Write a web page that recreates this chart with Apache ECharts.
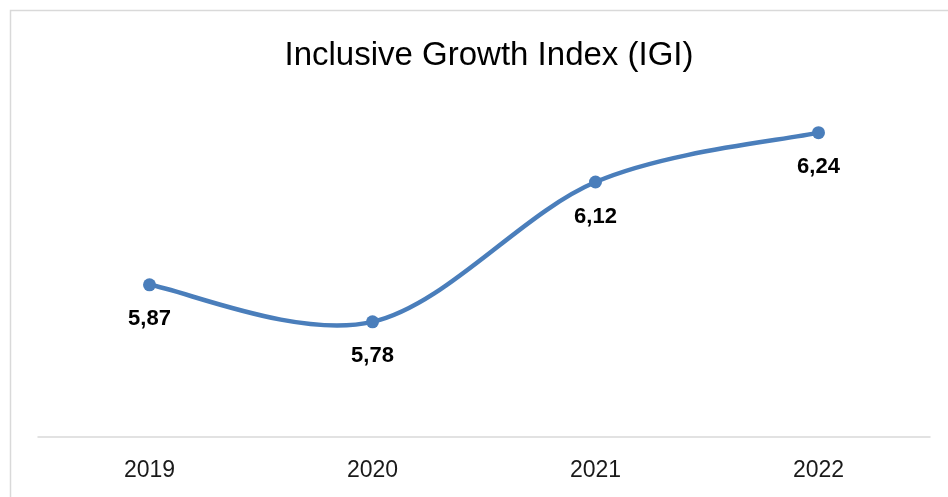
<!DOCTYPE html>
<html>
<head>
<meta charset="utf-8">
<script src="https://cdn.jsdelivr.net/npm/echarts@6/dist/echarts.min.js"></script>
<style>
html,body{margin:0;padding:0;background:#fff;}
#c{width:948px;height:497px;}
</style>
</head>
<body>
<div id="c"></div>
<script>
const categories = ['2019', '2020', '2021', '2022'];
const igiValues = [5.87, 5.78, 6.12, 6.24];
const titleText = 'Inclusive Growth Index (IGI)';
const lineColor = '#4a7ebb';

// Smooth curve (Catmull-Rom style, like spreadsheet smoothing) built from coordinates given by the axes
function renderSmooth(params, api) {
  if (params.dataIndex !== 0) return null;
  const p = igiValues.map((v, i) => api.coord([i, v]));
  const n = p.length;
  let d = 'M' + p[0][0] + ' ' + p[0][1];
  for (let i = 0; i < n - 1; i++) {
    const p0 = p[Math.max(i - 1, 0)], p1 = p[i], p2 = p[i + 1], p3 = p[Math.min(i + 2, n - 1)];
    const c1x = p1[0] + (p2[0] - p0[0]) / 6, c1y = p1[1] + (p2[1] - p0[1]) / 6;
    const c2x = p2[0] - (p3[0] - p1[0]) / 6, c2y = p2[1] - (p3[1] - p1[1]) / 6;
    d += ' C' + c1x + ' ' + c1y + ' ' + c2x + ' ' + c2y + ' ' + p2[0] + ' ' + p2[1];
  }
  return {
    type: 'path',
    shape: { pathData: d },
    style: { fill: 'none', stroke: lineColor, lineWidth: 4.5, lineCap: 'round', lineJoin: 'round' }
  };
}

const chart = echarts.init(document.getElementById('c'));
chart.setOption({
  backgroundColor: '#fff',
  animation: false,
  graphic: [{
    type: 'rect',
    shape: { x: 10.5, y: 10.5, width: 960, height: 520 },
    style: { fill: 'none', stroke: '#d9d9d9', lineWidth: 1.5 },
    silent: true
  }],
  title: {
    text: titleText,
    left: 484,
    top: 34,
    textAlign: 'center',
    textStyle: { fontFamily: 'Liberation Sans', fontWeight: 'normal', fontSize: 33, color: '#000' }
  },
  grid: { left: 38, right: 18, top: 108, bottom: 60 },
  xAxis: {
    type: 'category',
    data: categories,
    boundaryGap: true,
    axisLine: { lineStyle: { color: '#d9d9d9', width: 1.5 } },
    axisTick: { show: false },
    axisLabel: { fontFamily: 'Liberation Sans', fontSize: 23, color: '#1a1a1a', margin: 22 }
  },
  yAxis: {
    type: 'value',
    min: 5.5,
    max: 6.3,
    show: false,
    splitLine: { show: false }
  },
  series: [{
    type: 'custom',
    data: igiValues.map((v, i) => [i, v]),
    encode: { x: 0, y: 1 },
    renderItem: renderSmooth,
    silent: true,
    z: 1
  }, {
    type: 'line',
    data: igiValues,
    symbol: 'circle',
    symbolSize: 13,
    lineStyle: { width: 0, opacity: 0 },
    itemStyle: { color: lineColor },
    z: 2,
    label: {
      show: true,
      position: 'bottom',
      distance: 17,
      fontFamily: 'Liberation Sans',
      fontWeight: 'bold',
      fontSize: 22,
      color: '#000',
      formatter: p => p.value.toFixed(2).replace('.', ',')
    }
  }]
});
</script>
</body>
</html>
